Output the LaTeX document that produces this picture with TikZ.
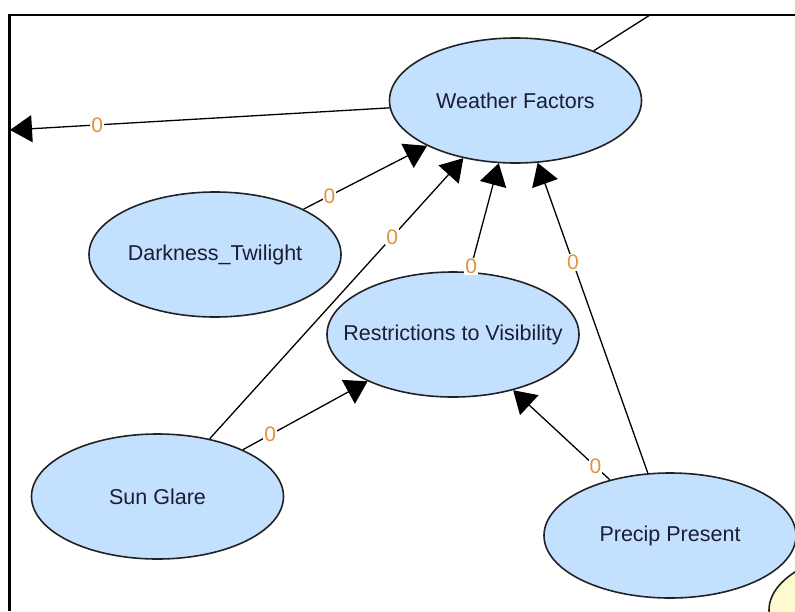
\documentclass[tikz,border=0pt]{standalone}
\usepackage{fontspec}
\setmainfont{Liberation Sans}
\usetikzlibrary{arrows.meta,positioning,shapes.geometric}
\definecolor{NETfill}{HTML}{C4E0FF}
\definecolor{NETline}{HTML}{222222}
\definecolor{NETtext}{HTML}{1C1C34}
\definecolor{NETzero}{HTML}{E0943A}
\definecolor{NETpale}{HTML}{FFFACD}
\tikzset{netnode/.style={ellipse,draw=NETline,line width=1.6pt,fill=NETfill,text=NETtext,
 minimum width=252pt,minimum height=125pt,inner xsep=-40pt,inner ysep=0pt,
 font=\fontsize{21.5}{26}\selectfont},
 netarr/.style={-{Triangle[length=22pt,width=27pt]},line width=1.3pt,draw=black},
 netlbl/.style={fill=white,inner sep=1pt,text=NETzero,font=\fontsize{21}{24}\selectfont}}

\begin{document}
\begin{tikzpicture}[x=1pt,y=-1pt,on grid]
\useasboundingbox (0,0) rectangle (795,611);
\begin{scope}
\clip (10,16) rectangle (795,611);
% network nodes
\node[netnode] (wf) at (515.5,100.5) {Weather Factors};
\node[netnode,below left=154pt and 300.5pt of wf] (dark) {Darkness\_Twilight};
\node[netnode,below left=234pt and 62.5pt of wf] (restr) {Restrictions to Visibility};
\node[netnode,below left=162pt and 295.5pt of restr] (sun) {Sun Glare};
\node[netnode,below right=201pt and 217pt of restr] (precip) {Precip Present};
\node[netnode,fill=NETpale,below right=74.5pt and 225pt of precip] (next) {};
\coordinate (west) at (10,130);
\coordinate (north) at (650,15);
% links
\draw[netarr] (wf) -- node[netlbl,pos=0.77]{0} (west);
\draw[line width=1.3pt] (wf) -- (north);
\draw[netarr] (dark) -- node[netlbl,pos=0.21]{0} (wf);
\draw[netarr] (sun) -- node[netlbl,pos=0.72]{0} (wf);
\draw[netarr] (sun) -- node[netlbl,pos=0.22]{0} (restr);
\draw[netarr] (restr) -- node[netlbl,pos=0.05]{0} (wf);
\draw[netarr] (precip) -- node[netlbl,pos=0.68]{0} (wf);
\draw[netarr] (precip) -- node[netlbl,pos=0.15]{0} (restr);
\end{scope}
% window frame
\draw[line width=2.5pt] (9.25,611) -- (9.25,15) -- (795,15);
\end{tikzpicture}
\end{document}
